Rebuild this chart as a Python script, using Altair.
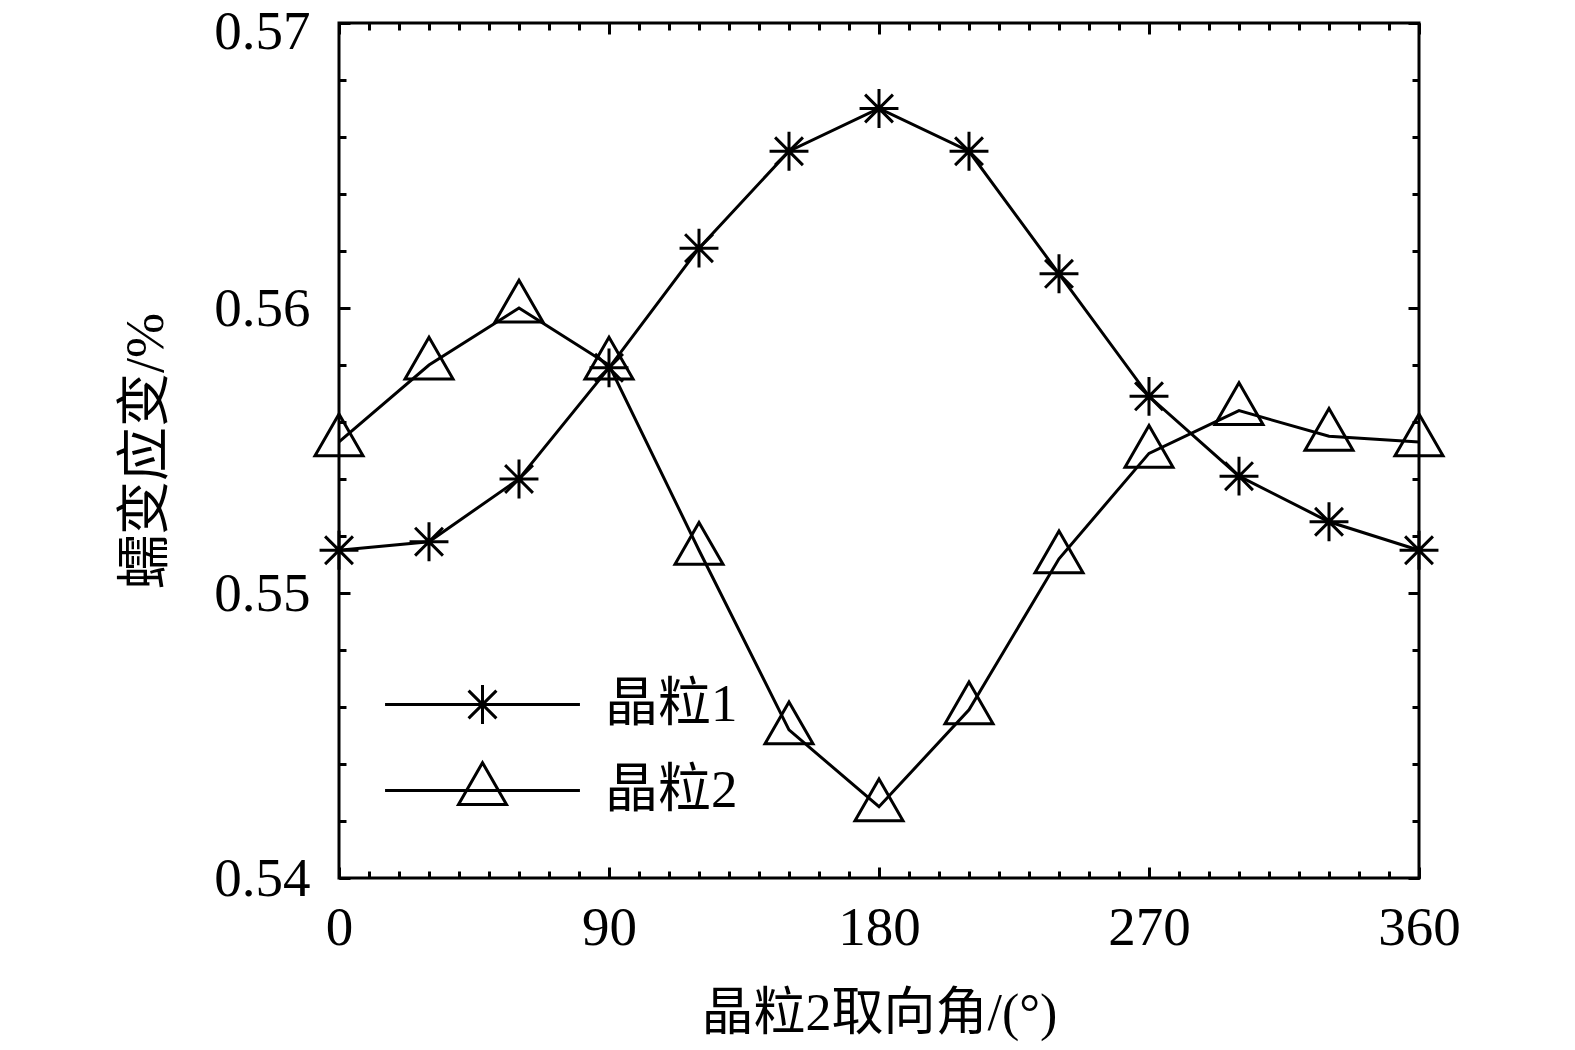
import altair as alt
import pandas as pd

# ---- data ----
angles = [0, 30, 60, 90, 120, 150, 180, 210, 240, 270, 300, 330, 360]
grain1 = [0.5515, 0.5518, 0.5540, 0.5579, 0.5621, 0.5655, 0.5670,
          0.5655, 0.5612, 0.5569, 0.5541, 0.5525, 0.5515]
grain2 = [0.5553, 0.5580, 0.5600, 0.5580, 0.5515, 0.5452, 0.5425,
          0.5459, 0.5512, 0.5549, 0.5564, 0.5555, 0.5553]
series_names = ["晶粒1", "晶粒2"]

x_major = [0, 90, 180, 270, 360]
x_minor = [0, 10, 20, 30, 40, 50, 60, 70, 80, 90, 100, 110, 120, 130, 140,
           150, 160, 170, 180, 190, 200, 210, 220, 230, 240, 250, 260, 270,
           280, 290, 300, 310, 320, 330, 340, 350, 360]
y_major = [0.54, 0.55, 0.56, 0.57]
y_minor = [0.540, 0.542, 0.544, 0.546, 0.548, 0.550, 0.552, 0.554, 0.556,
           0.558, 0.560, 0.562, 0.564, 0.566, 0.568, 0.570]
x_title = "晶粒2取向角/(°)"
y_title = "蠕变应变/%"

rows = []
for a, v in zip(angles, grain1):
    rows.append({"angle": a, "strain": v, "series": series_names[0]})
for a, v in zip(angles, grain2):
    rows.append({"angle": a, "strain": v, "series": series_names[1]})
df = pd.DataFrame(rows)

FONT = "Liberation Serif, Noto Sans CJK SC"
W, H = 1080, 855
MAJ, MIN = 11, 7
TW = 3

# marker paths (unit = half marker width)
ast_path = ("M-0.81,0L0.81,0M0,-0.81L0,0.81"
            "M-0.58,-0.58L0.58,0.58M-0.58,0.58L0.58,-0.58")
tri_path = "M0,-1.16L1,0.58L-1,0.58Z"
leg_ast = "M-4.06,0L4.06,0" + ast_path
leg_tri = "M-4.06,0L4.06,0" + tri_path

xscale = alt.Scale(domain=[0, 360], nice=False, zero=False)
yscale = alt.Scale(domain=[0.54, 0.57], nice=False, zero=False)


def tick_axis(orient, size, values, **kw):
    base = dict(orient=orient, offset=-size, tickSize=size, values=values,
                domain=False, grid=False, tickColor="black", tickWidth=TW,
                labels=False, title=None)
    base.update(kw)
    return alt.Axis(**base)


x_main = tick_axis("bottom", MAJ, x_major, labels=True, labelFont=FONT,
                   labelFontSize=55, labelColor="black", labelPadding=23,
                   labelFlush=False, labelOverlap=False, labelBound=False,
                   format="d", title=x_title, titleFont=FONT,
                   titleFontSize=52, titleFontWeight="normal",
                   titleColor="black", titlePadding=33)
y_main = tick_axis("left", MAJ, y_major, labels=True, labelFont=FONT,
                   labelFontSize=55, labelColor="black", labelPadding=29,
                   labelFlush=False, labelOverlap=False, labelBound=False,
                   labelOffset={"condition": {"test": "datum.value > 0.5695",
                                              "value": 8},
                                "value": 0},
                   format=".2f", title=y_title, titleFont=FONT,
                   titleFontSize=54, titleFontWeight="normal",
                   titleColor="black", titlePadding=40)

lines = alt.Chart(df).mark_line(color="black", strokeWidth=3).encode(
    x=alt.X("angle:Q", scale=xscale, axis=x_main),
    y=alt.Y("strain:Q", scale=yscale, axis=y_main),
    detail="series:N",
)

points = alt.Chart(df).mark_point(
    filled=False, color="black", strokeWidth=3, size=2304, opacity=1
).encode(
    x=alt.X("angle:Q", scale=xscale, axis=tick_axis("bottom", MIN, x_minor)),
    y=alt.Y("strain:Q", scale=yscale, axis=tick_axis("left", MIN, y_minor)),
    shape=alt.Shape("series:N",
                    scale=alt.Scale(domain=series_names,
                                    range=[ast_path, tri_path]),
                    legend=None),
)

legend_layer = alt.Chart(df).mark_point(
    filled=False, color="black", strokeWidth=3, size=2304, opacity=0
).encode(
    x=alt.X("angle:Q", scale=xscale, axis=tick_axis("top", MAJ, x_major)),
    y=alt.Y("strain:Q", scale=yscale, axis=tick_axis("right", MAJ, y_major)),
    shape=alt.Shape(
        "series:N",
        scale=alt.Scale(domain=series_names, range=[leg_ast, leg_tri]),
        legend=alt.Legend(
            title=None, orient="none", legendX=45, legendY=655,
            padding=0, symbolSize=2304, symbolStrokeWidth=3,
            symbolOpacity=1, symbolStrokeColor="black",
            symbolFillColor="transparent", symbolOffset=72,
            labelOffset=96, labelFont=FONT, labelFontSize=53,
            labelColor="black", labelLimit=400, rowPadding=24,
        ),
    ),
)

minor_top_right = alt.Chart(df).mark_line(opacity=0).encode(
    x=alt.X("angle:Q", scale=xscale, axis=tick_axis("top", MIN, x_minor)),
    y=alt.Y("strain:Q", scale=yscale, axis=tick_axis("right", MIN, y_minor)),
    detail="series:N",
)

chart = alt.layer(lines, points, legend_layer, minor_top_right).resolve_scale(
    shape="independent"
).resolve_axis(
    x="independent", y="independent"
).properties(
    width=W, height=H,
    background="white",
    autosize=alt.AutoSizeParams(type="none"),
    padding={"left": 331, "top": 15, "right": 120, "bottom": 164},
).configure_view(
    stroke="black", strokeWidth=3
)

chart.save("out.html", embed_options={"renderer": "svg", "actions": False})
